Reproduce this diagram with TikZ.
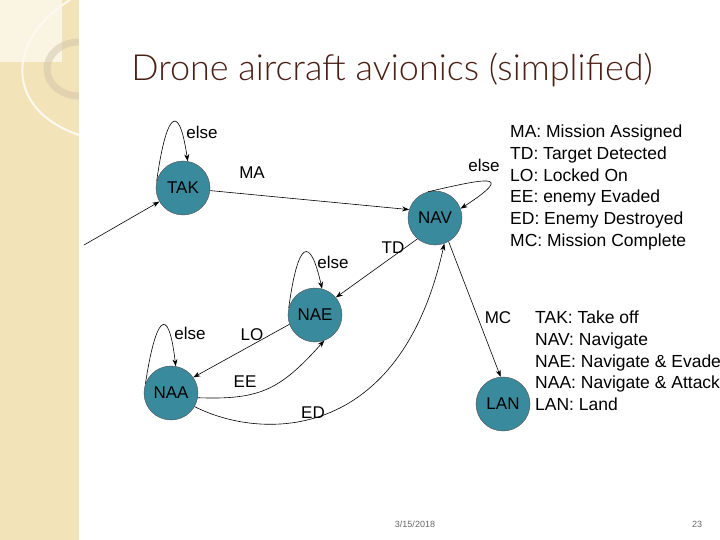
\documentclass[tikz,border=0pt]{standalone}
\usepackage{fontspec}
\setmainfont{Liberation Sans}
\newfontfamily\titlefont{Lato Light}
\usetikzlibrary{arrows.meta}
\definecolor{teal1}{HTML}{3A8A9E}
\definecolor{beige}{HTML}{F3E3B8}
\definecolor{titlec}{HTML}{4A1F14}
\begin{document}
\begin{tikzpicture}[x=1pt,y=-1pt,
  st/.style={circle,draw=black!70,fill=teal1,minimum size=54pt,inner sep=0pt,font=\fontsize{17}{17}\selectfont},
  lbl/.style={font=\fontsize{17}{17}\selectfont,inner sep=0pt},
  leg/.style={font=\fontsize{17.5}{21.7}\selectfont,align=left,anchor=north west,inner sep=0pt},
  ed/.style={-{Stealth[length=7pt,width=5pt]},semithick}]
\useasboundingbox (0,0) rectangle (720,540);
\fill[white] (0,0) rectangle (720,540);
\fill[beige] (0,0) rectangle (79,540);
\fill[white!60!beige] (0,0) rectangle (62,62);
\draw[white!80!beige,line width=2pt] (70,0) .. controls (5,40) and (5,110) .. (79,135);
\draw[beige!70!gray,line width=7pt,opacity=0.5] (79,96) arc (90:270:32 and 27);
\node[lbl,font=\titlefont\fontsize{36}{36}\selectfont,text=titlec] (title) at (392,70) {Drone aircraft avionics (simplified)};
\node[st] (TAK) at (183,188) {TAK};
\node[st] (NAV) at (435,218) {NAV};
\node[st] (NAE) at (315,315) {NAE};
\node[st] (NAA) at (171,393) {NAA};
\node[st] (LAN) at (503,404) {LAN};
\coordinate (start) at (84,245);
\draw[ed] (start) -- (TAK);
\draw[ed] (TAK.165) .. controls (165,120) and (178,95) .. (TAK.80);
\node[lbl] (l1) at (202,132) {else};
\draw[ed] (TAK) -- (NAV.162);
\node[lbl] (lma) at (252,173) {MA};
\draw[ed] (NAV.105) .. controls (480,180) and (520,170) .. (NAV.20);
\node[lbl] (l2) at (484,165) {else};
\draw[ed] (NAV.230) -- (NAE.40);
\node[lbl] (ltd) at (393,248) {TD};
\draw[ed] (NAE.165) .. controls (298,240) and (310,235) .. (NAE.75);
\node[lbl] (l3) at (333,262) {else};
\draw[ed] (NAE.200) -- (NAA.35);
\node[lbl] (llo) at (252,335) {LO};
\draw[ed] (NAA.-10) .. controls (260,400) and (280,390) .. (NAE.-70);
\node[lbl] (lee) at (245,382) {EE};
\draw[ed] (NAA.-30) .. controls (260,440) and (400,445) .. (NAV.-70);
\node[lbl] (led) at (313,413) {ED};
\draw[ed] (NAV.-60) -- (LAN.95);
\node[lbl] (lmc) at (498,318) {MC};
\draw[ed] (NAA.160) .. controls (155,320) and (168,300) .. (NAA.80);
\node[lbl] (l4) at (190,333) {else};
\node[leg] (leg1) at (510,125) {MA: Mission Assigned\\TD: Target Detected\\LO: Locked On\\EE: enemy Evaded\\ED: Enemy Destroyed\\MC: Mission Complete};
\node[leg] (leg2) at (535,311) {TAK: Take off\\NAV: Navigate\\NAE: Navigate \& Evade\\NAA: Navigate \& Attack\\LAN: Land};
\node[lbl,font=\fontsize{9}{9}\selectfont,text=black!60] (date) at (415,524) {3/15/2018};
\node[lbl,font=\fontsize{9}{9}\selectfont,text=black!60] (pg) at (697,524) {23};
\end{tikzpicture}
\end{document}
